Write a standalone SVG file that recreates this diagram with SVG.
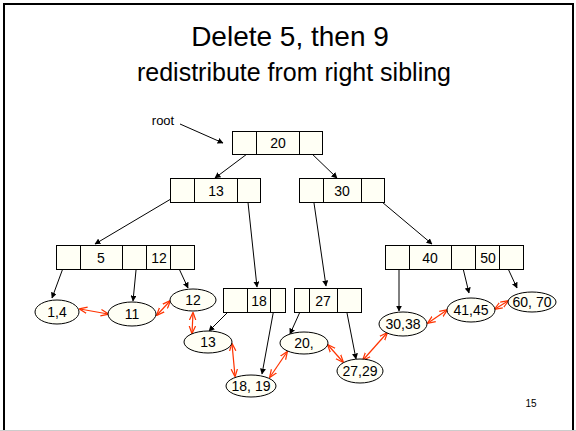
<svg xmlns="http://www.w3.org/2000/svg" width="576" height="431" viewBox="0 0 576 431">
<defs>
<marker id="ah" viewBox="0 0 10 10" refX="9" refY="5" markerWidth="6" markerHeight="6" orient="auto" markerUnits="userSpaceOnUse"><path d="M0,0 L10,5 L0,10 z" fill="#000"/></marker>
<marker id="rh" viewBox="0 0 10 10" refX="9" refY="5" markerWidth="8" markerHeight="8" orient="auto-start-reverse" markerUnits="userSpaceOnUse"><path d="M0,1 L10,5 L0,9" fill="none" stroke="#FF3300" stroke-width="1.5"/></marker>
</defs>
<style>
.box{fill:#FFFFF5;stroke:#000;stroke-width:1}
.div{stroke:#000;stroke-width:1}
.t{font-family:"Liberation Sans",Arial,sans-serif;font-size:14px;fill:#000;text-anchor:middle}
.ar{stroke:#000;stroke-width:1;fill:none;marker-end:url(#ah)}
.rr{stroke:#FF3300;stroke-width:1.2;fill:none;marker-start:url(#rh);marker-end:url(#rh)}
.el{fill:#FFFFF5;stroke:#000;stroke-width:1}
</style>
<rect x="0" y="0" width="576" height="431" fill="#fff"/>
<rect x="4" y="4" width="569" height="440" fill="none" stroke="#000" stroke-width="2"/>
<line x1="0" y1="430.5" x2="576" y2="430.5" stroke="#ccc" stroke-width="1"/>
<text x="290" y="46" style="font-family:'Liberation Sans',Arial,sans-serif;font-size:28px;text-anchor:middle">Delete 5, then 9</text>
<text x="294" y="81" style="font-family:'Liberation Sans',Arial,sans-serif;font-size:25px;text-anchor:middle">redistribute from right sibling</text>
<text x="531" y="407" style="font-family:'Liberation Sans',Arial,sans-serif;font-size:10px;text-anchor:middle">15</text>
<text x="163" y="125" style="font-family:'Liberation Sans',Arial,sans-serif;font-size:13px;text-anchor:middle">root</text>

<g id="connectors">
<line class="ar" x1="180" y1="124" x2="223" y2="143"/>
<line class="ar" x1="251" y1="151" x2="215" y2="178"/>
<line class="ar" x1="309" y1="151" x2="337" y2="178"/>
<line class="ar" x1="181" y1="193" x2="95" y2="244"/>
<line class="ar" x1="247" y1="193" x2="257" y2="287"/>
<line class="ar" x1="314" y1="203" x2="326" y2="286"/>
<line class="ar" x1="382" y1="202" x2="432" y2="244"/>
<line class="ar" x1="66" y1="260" x2="52" y2="298"/>
<line class="ar" x1="137" y1="260" x2="133" y2="301"/>
<line class="ar" x1="175" y1="260" x2="188" y2="288"/>
<line class="ar" x1="237" y1="303" x2="209" y2="331"/>
<line class="ar" x1="275" y1="303" x2="262" y2="374"/>
<line class="ar" x1="304" y1="303" x2="290" y2="334"/>
<line class="ar" x1="347" y1="313" x2="356" y2="359"/>
<line class="ar" x1="399" y1="263" x2="399" y2="311"/>
<line class="ar" x1="461" y1="260" x2="469" y2="293"/>
<line class="ar" x1="504" y1="260" x2="517" y2="288"/>
<line class="rr" x1="80" y1="309" x2="108" y2="314"/>
<line class="rr" x1="157" y1="315" x2="170" y2="301"/>
<line class="rr" x1="193" y1="313" x2="192" y2="333"/>
<line class="rr" x1="232" y1="344" x2="235" y2="376"/>
<line class="rr" x1="270" y1="377" x2="287" y2="352"/>
<line class="rr" x1="328" y1="345" x2="343" y2="362"/>
<line class="rr" x1="363" y1="360" x2="387" y2="333"/>
<line class="rr" x1="428" y1="323" x2="447" y2="310"/>
<line class="rr" x1="495" y1="309" x2="508" y2="301"/>
</g>

<g id="root">
<rect class="box" x="232.5" y="131.5" width="90" height="23"/>
<line class="div" x1="256.5" y1="131.5" x2="256.5" y2="154.5"/>
<line class="div" x1="299.5" y1="131.5" x2="299.5" y2="154.5"/>
<text class="t" x="278" y="148">20</text>
</g>
<g id="n13">
<rect class="box" x="170.5" y="178.5" width="90" height="24"/>
<line class="div" x1="194.5" y1="178.5" x2="194.5" y2="202.5"/>
<line class="div" x1="237.5" y1="178.5" x2="237.5" y2="202.5"/>
<text class="t" x="216" y="196">13</text>
</g>
<g id="n30">
<rect class="box" x="299.5" y="178.5" width="85" height="24"/>
<line class="div" x1="323.5" y1="178.5" x2="323.5" y2="202.5"/>
<line class="div" x1="361.5" y1="178.5" x2="361.5" y2="202.5"/>
<text class="t" x="342" y="196">30</text>
</g>
<g id="n5_12">
<rect class="box" x="56.5" y="245.5" width="138" height="24"/>
<line class="div" x1="80.5" y1="245.5" x2="80.5" y2="269.5"/>
<line class="div" x1="122.5" y1="245.5" x2="122.5" y2="269.5"/>
<line class="div" x1="146.5" y1="245.5" x2="146.5" y2="269.5"/>
<line class="div" x1="170.5" y1="245.5" x2="170.5" y2="269.5"/>
<text class="t" x="101" y="263">5</text>
<text class="t" x="159" y="263">12</text>
</g>
<g id="n40_50">
<rect class="box" x="385.5" y="245.5" width="138" height="24"/>
<line class="div" x1="409.5" y1="245.5" x2="409.5" y2="269.5"/>
<line class="div" x1="451.5" y1="245.5" x2="451.5" y2="269.5"/>
<line class="div" x1="475.5" y1="245.5" x2="475.5" y2="269.5"/>
<line class="div" x1="499.5" y1="245.5" x2="499.5" y2="269.5"/>
<text class="t" x="430" y="263">40</text>
<text class="t" x="488" y="263">50</text>
</g>
<g id="n18">
<rect class="box" x="223.5" y="288.5" width="62" height="24"/>
<line class="div" x1="247.5" y1="288.5" x2="247.5" y2="312.5"/>
<line class="div" x1="270.5" y1="288.5" x2="270.5" y2="312.5"/>
<text class="t" x="259" y="306">18</text>
</g>
<g id="n27">
<rect class="box" x="294.5" y="288.5" width="67" height="24"/>
<line class="div" x1="309.5" y1="288.5" x2="309.5" y2="312.5"/>
<line class="div" x1="337.5" y1="288.5" x2="337.5" y2="312.5"/>
<text class="t" x="323" y="306">27</text>
</g>
<g id="l1_4"><ellipse class="el" cx="57" cy="312" rx="22" ry="12"/><text class="t" x="57" y="317">1,4</text></g>
<g id="l11"><ellipse class="el" cx="132" cy="314" rx="24" ry="12"/><text class="t" x="132" y="319">11</text></g>
<g id="l12"><ellipse class="el" cx="193" cy="300" rx="23" ry="11"/><text class="t" x="193" y="305">12</text></g>
<g id="l13"><ellipse class="el" cx="208" cy="342" rx="24" ry="11"/><text class="t" x="208" y="347">13</text></g>
<g id="l18_19"><ellipse class="el" cx="251" cy="386" rx="25" ry="11"/><text class="t" x="251" y="391">18, 19</text></g>
<g id="l20"><ellipse class="el" cx="304" cy="343" rx="24" ry="11"/><text class="t" x="304" y="348">20,</text></g>
<g id="l27_29"><ellipse class="el" cx="360" cy="371" rx="23" ry="12"/><text class="t" x="360" y="376">27,29</text></g>
<g id="l30_38"><ellipse class="el" cx="403" cy="324" rx="24" ry="12"/><text class="t" x="403" y="329">30,38</text></g>
<g id="l41_45"><ellipse class="el" cx="471" cy="310" rx="24" ry="12"/><text class="t" x="471" y="315">41,45</text></g>
<g id="l60_70"><ellipse class="el" cx="532" cy="302" rx="24" ry="10"/><text class="t" x="532" y="307">60, 70</text></g>
</svg>
